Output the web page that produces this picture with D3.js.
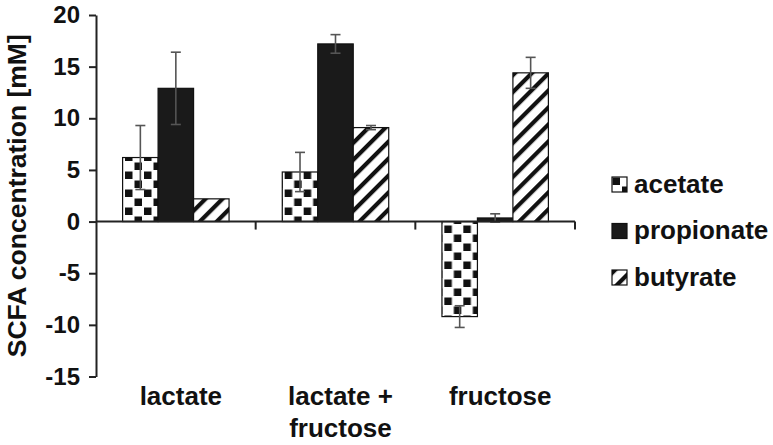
<!DOCTYPE html>
<html>
<head>
<meta charset="utf-8">
<script src="https://cdn.jsdelivr.net/npm/d3@7/dist/d3.min.js"></script>
<style>
  html, body { margin: 0; padding: 0; background: #fff; }
  svg { display: block; }
  text { font-family: "Liberation Sans", Arial, sans-serif; font-weight: bold; fill: #111; }
</style>
</head>
<body>
<svg id="chart" width="773" height="445"></svg>
<script>
// ---- data ----
const categories = ["lactate", "lactate + fructose", "fructose"];
const categoryLines = [["lactate"], ["lactate +", "fructose"], ["fructose"]];
const seriesNames = ["acetate", "propionate", "butyrate"];
const acetate = [6.2, 4.8, -9.2];
const acetateErr = [3.1, 1.9, 1.05];
const propionate = [12.9, 17.2, 0.35];
const propionateErr = [3.5, 0.9, 0.4];
const butyrate = [2.2, 9.1, 14.4];
const butyrateErr = [0, 0.2, 1.5];
const yTicks = [-15, -10, -5, 0, 5, 10, 15, 20];
const yLabel = "SCFA concentration [mM]";

const values = { acetate, propionate, butyrate };
const errors = { acetate: acetateErr, propionate: propionateErr, butyrate: butyrateErr };

const svg = d3.select("#chart");
const defs = svg.append("defs");

// checkerboard pattern
const chk = defs.append("pattern").attr("id", "checker")
  .attr("patternUnits", "userSpaceOnUse").attr("width", 19).attr("height", 18);
chk.append("rect").attr("width", 19).attr("height", 18).attr("fill", "#fff");
chk.append("rect").attr("x", 0.5).attr("y", 0.5).attr("width", 7.5).attr("height", 7.5).attr("fill", "#111");
chk.append("rect").attr("x", 10).attr("y", 9.5).attr("width", 7.5).attr("height", 7.5).attr("fill", "#111");

// diagonal hatch pattern
const hatch = defs.append("pattern").attr("id", "hatch")
  .attr("patternUnits", "userSpaceOnUse").attr("width", 12).attr("height", 12)
  .attr("patternTransform", "rotate(45)");
hatch.append("rect").attr("width", 12).attr("height", 12).attr("fill", "#fff");
hatch.append("rect").attr("x", 0).attr("y", 0).attr("width", 4.2).attr("height", 12).attr("fill", "#111");

const fills = { acetate: "url(#checker)", propionate: "#1a1a1a", butyrate: "url(#hatch)" };

// ---- scales ----
const y = d3.scaleLinear().domain([-15, 20]).range([376.5, 15]);
const x0 = d3.scaleBand().domain(categories).range([96, 575]).padding(0);
const x1 = d3.scaleBand().domain(seriesNames).range([0, x0.bandwidth()])
  .paddingInner(0).paddingOuter(0.75);

// ---- bars ----
const groups = svg.append("g").selectAll("g").data(categories).join("g")
  .attr("transform", d => `translate(${x0(d)},0)`);

groups.each(function (cat, ci) {
  const g = d3.select(this);
  seriesNames.forEach(s => {
    const v = values[s][ci];
    g.append("rect")
      .attr("x", x1(s))
      .attr("y", y(Math.max(0, v)))
      .attr("width", x1.bandwidth())
      .attr("height", Math.abs(y(v) - y(0)))
      .attr("fill", fills[s])
      .attr("stroke", "#111")
      .attr("stroke-width", 1.2);
  });
  seriesNames.forEach(s => {
    const v = values[s][ci], e = errors[s][ci];
    if (!e) return;
    const cx = x1(s) + x1.bandwidth() / 2;
    const eg = g.append("g").attr("stroke", "#555").attr("stroke-width", 1.6);
    eg.append("line").attr("x1", cx).attr("x2", cx).attr("y1", y(v - e)).attr("y2", y(v + e));
    [v - e, v + e].forEach(t => {
      eg.append("line").attr("x1", cx - 5).attr("x2", cx + 5).attr("y1", y(t)).attr("y2", y(t));
    });
  });
});

// ---- y axis ----
const yAxis = svg.append("g").attr("transform", "translate(96,0)")
  .call(d3.axisLeft(y).tickValues(yTicks).tickFormat(d => String(d))
    .tickSize(7).tickSizeOuter(0).tickPadding(9));
yAxis.select(".domain").attr("stroke", "#222").attr("stroke-width", 2);
yAxis.selectAll(".tick line").attr("stroke", "#222").attr("stroke-width", 2);
yAxis.selectAll(".tick text").style("font-size", "24px").attr("fill", "#111")
  .style("font-family", "'Liberation Sans', Arial, sans-serif").style("font-weight", "bold");

// ---- x axis (at zero) ----
const xg = svg.append("g");
xg.append("line").attr("x1", x0.range()[0]).attr("x2", x0.range()[1])
  .attr("y1", y(0)).attr("y2", y(0)).attr("stroke", "#222").attr("stroke-width", 2);
xg.selectAll("line.tk").data(categories).join("line").attr("class", "tk")
  .attr("x1", d => x0(d) + x0.bandwidth()).attr("x2", d => x0(d) + x0.bandwidth())
  .attr("y1", y(0)).attr("y2", y(0) + 8).attr("stroke", "#222").attr("stroke-width", 2);

// category labels
svg.append("g").selectAll("text").data(categories).join("text")
  .attr("x", d => x0(d) + x0.bandwidth() / 2 + 5)
  .attr("y", 405)
  .attr("text-anchor", "middle")
  .style("font-size", "26px")
  .each(function (d, i) {
    const t = d3.select(this);
    categoryLines[i].forEach((ln, k) => {
      t.append("tspan").attr("x", x0(d) + x0.bandwidth() / 2 + 5).attr("dy", k === 0 ? 0 : 32).text(ln);
    });
  });

// y label
svg.append("text")
  .attr("transform", `translate(26,${(y(20) + y(-15)) / 2}) rotate(-90)`)
  .attr("text-anchor", "middle")
  .style("font-size", "26.5px")
  .text(yLabel);

// ---- legend ----
const legend = svg.append("g").attr("transform", "translate(612,177)");
const li = legend.selectAll("g").data(seriesNames).join("g")
  .attr("transform", (d, i) => `translate(0,${i * 46.5})`);
li.append("rect").attr("width", 15).attr("height", 15)
  .attr("fill", d => fills[d]).attr("stroke", "#111").attr("stroke-width", 1.2);
li.append("text").attr("x", 22).attr("y", 15.5).style("font-size", "26px").text(d => d);
</script>
</body>
</html>
